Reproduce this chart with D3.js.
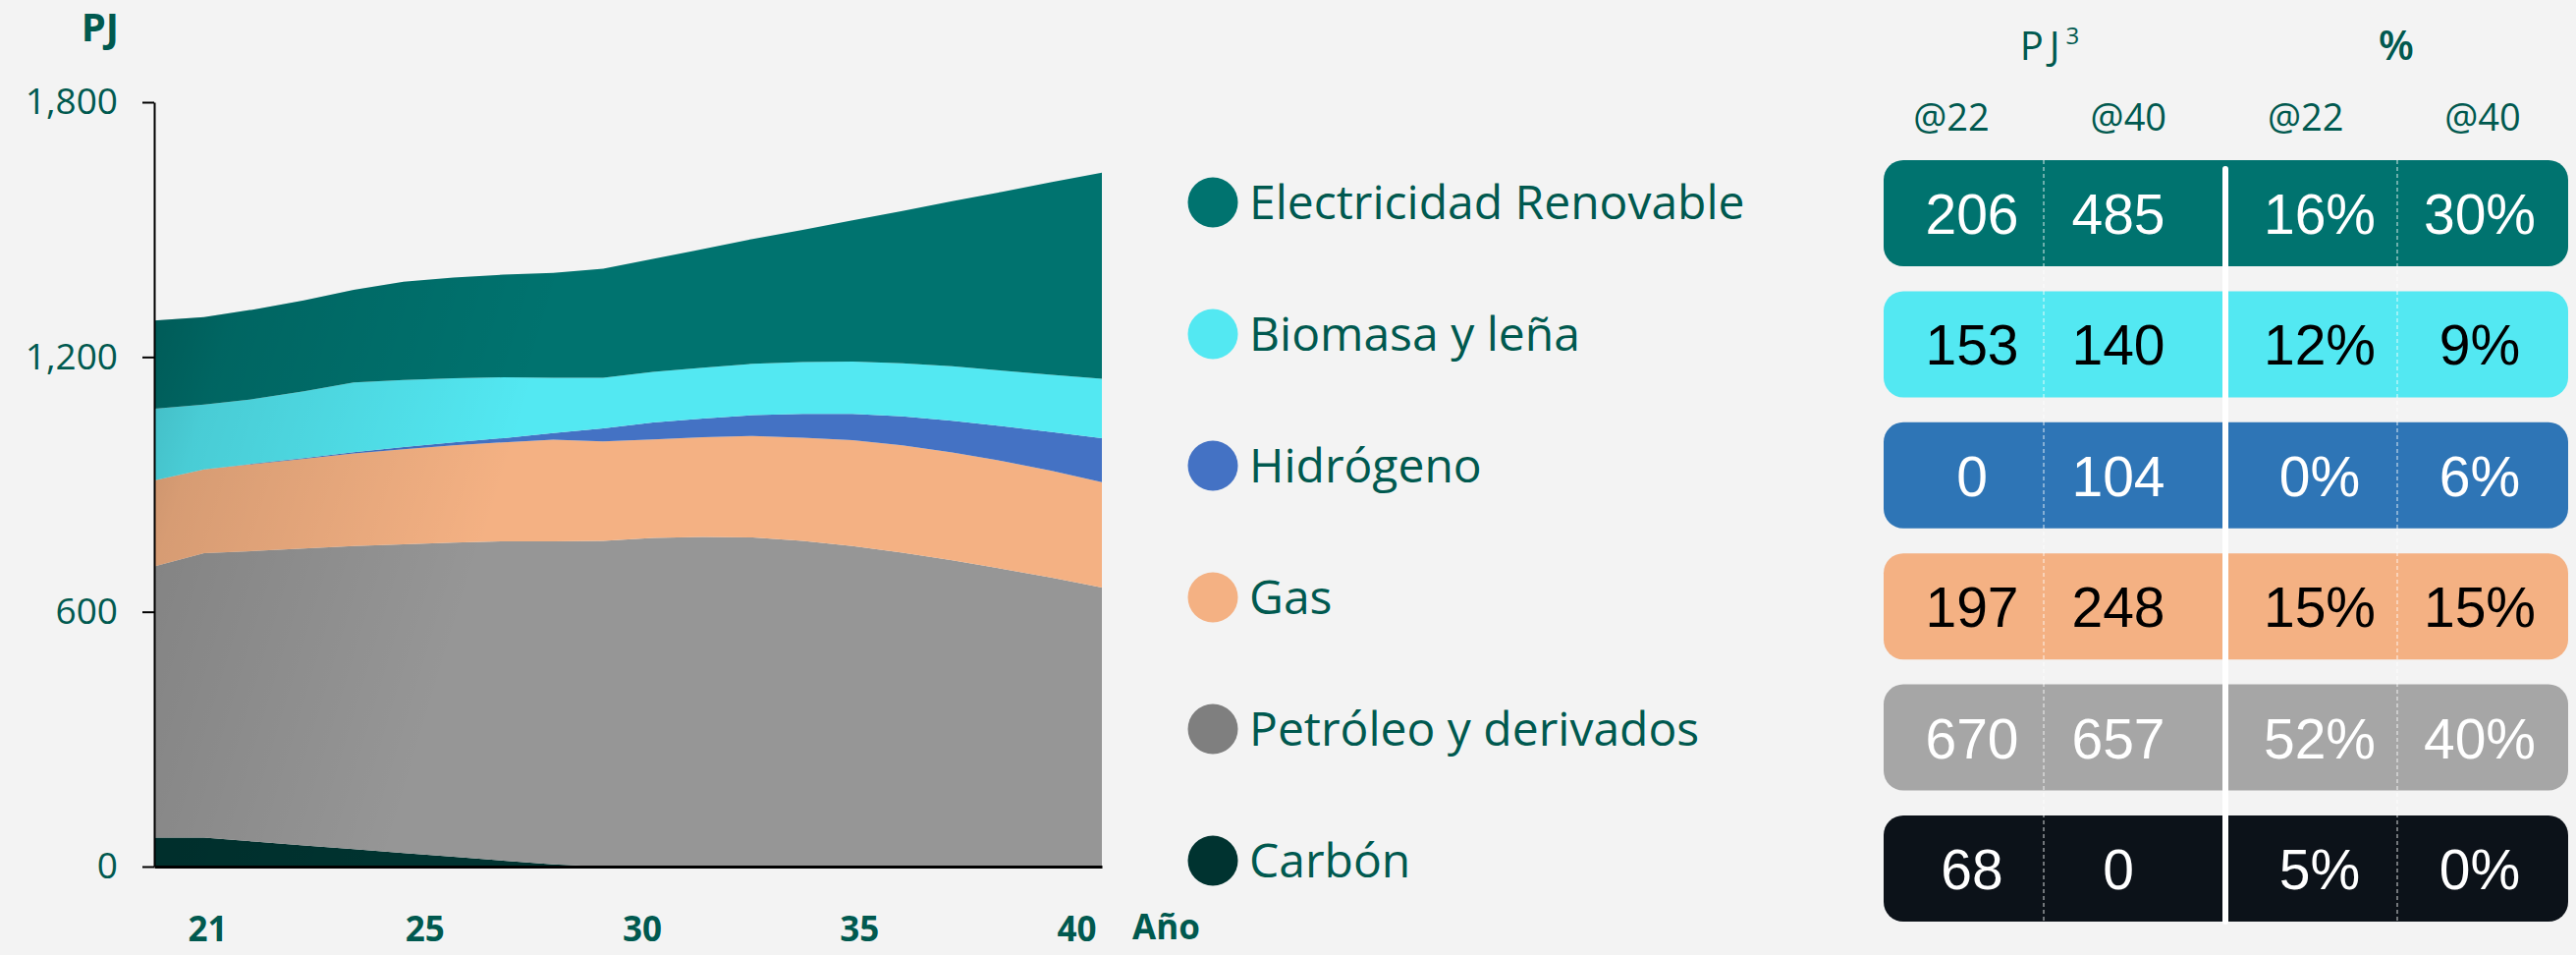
<!DOCTYPE html>
<html>
<head>
<meta charset="utf-8">
<script src="https://cdn.jsdelivr.net/npm/d3@7"></script>
<style>
  html, body { margin: 0; padding: 0; background: #f3f3f3; }
  svg { display: block; }
</style>
</head>
<body>
<div id="chart"></div>
<script>
// --- data (PJ) ---
const years = [2021, 2022, 2023, 2024, 2025, 2026, 2027, 2028, 2029, 2030,
               2031, 2032, 2033, 2034, 2035, 2036, 2037, 2038, 2039, 2040];
const electricidad = [208, 206, 211, 214, 218, 231, 237, 242, 247, 257, 266, 279, 294, 311, 333, 359, 389, 421, 454, 485];
const biomasa      = [169, 153, 152, 157, 164, 158, 151, 143, 130, 119, 119, 120, 121, 122, 123, 125, 128, 131, 135, 140];
const hidrogeno    = [0, 0, 1, 2, 3, 5, 7, 10, 16, 31, 40, 44, 49, 56, 62, 68, 75, 82, 91, 104];
const gas          = [202, 197, 205, 211, 218, 224, 229, 233, 239, 234, 232, 235, 239, 243, 249, 253, 254, 254, 252, 248];
const petroleo     = [639, 670, 684, 699, 714, 727, 740, 752, 761, 767, 774, 776, 775, 767, 755, 739, 721, 701, 680, 657];
const carbon       = [68, 68, 59, 50, 41, 32, 23, 14, 5, 0, 0, 0, 0, 0, 0, 0, 0, 0, 0, 0];

const seriesNames = ["Electricidad Renovable", "Biomasa y leña", "Hidrógeno", "Gas", "Petróleo y derivados", "Carbón"];
const xTickLabels = ["21", "25", "30", "35", "40"];
const yTicks = [0, 600, 1200, 1800];

// table values
const colKeys = ["pj22", "pj40", "pct22", "pct40"];
const colHeaders = ["@22", "@40", "@22", "@40"];
const pj22  = [206, 153, 0, 197, 670, 68];
const pj40  = [485, 140, 104, 248, 657, 0];
const pct22 = [16, 12, 0, 15, 52, 5];
const pct40 = [30, 9, 6, 15, 40, 0];

// --- styles ---
const ink = "#00594f";
const areaColors   = ["#00736f", "#53e8f2", "#4472c4", "#f4b183", "#969696", "#003330"];
const legendColors = ["#00736f", "#53e8f2", "#4472c4", "#f4b183", "#7f7f7f", "#003330"];
const rowColors    = ["#00736f", "#53e8f2", "#2e75b6", "#f4b183", "#a6a6a6", "#0c1219"];
const rowText      = ["#ffffff", "#000000", "#ffffff", "#000000", "#ffffff", "#ffffff"];

const dims = { width: 2623, height: 972 };

const svg = d3.select("#chart")
    .append("svg")
    .attr("width", dims.width)
    .attr("height", dims.height)
    .style("background", "#f3f3f3");

const defs = svg.append("defs");

// --- scales ---
const x = d3.scaleLinear().domain([years[0], years[years.length - 1]]).range([157, 1122]);
const y = d3.scaleLinear().domain([0, 1800]).range([882, 104]);

const table = years.map((yr, i) => ({
    year: yr,
    "Electricidad Renovable": electricidad[i],
    "Biomasa y leña": biomasa[i],
    "Hidrógeno": hidrogeno[i],
    "Gas": gas[i],
    "Petróleo y derivados": petroleo[i],
    "Carbón": carbon[i]
}));

const stackKeys = seriesNames.slice().reverse();
const stacked = d3.stack().keys(stackKeys)(table);
const color = d3.scaleOrdinal().domain(seriesNames).range(areaColors);

const area = d3.area()
    .x(d => x(d.data.year))
    .y0(d => y(d[0]))
    .y1(d => y(d[1]));

svg.append("g")
    .attr("class", "areas")
    .selectAll("path")
    .data(stacked)
    .join("path")
    .attr("d", area)
    .attr("fill", d => color(d.key));

// soft shading on the left of the stack
const totalArea = d3.area()
    .x(d => x(d.data.year))
    .y0(y(0))
    .y1(d => y(d[1]));

defs.append("clipPath").attr("id", "stack-clip")
    .append("path")
    .attr("d", totalArea(stacked[stacked.length - 1]));

const grad = defs.append("linearGradient")
    .attr("id", "shade")
    .attr("gradientUnits", "userSpaceOnUse")
    .attr("x1", 157).attr("y1", 0)
    .attr("x2", 620).attr("y2", 140);
grad.append("stop").attr("offset", 0).attr("stop-color", "#000").attr("stop-opacity", 0.04);
grad.append("stop").attr("offset", 0.02).attr("stop-color", "#000").attr("stop-opacity", 0.3);
grad.append("stop").attr("offset", 0.35).attr("stop-color", "#000").attr("stop-opacity", 0.12);
grad.append("stop").attr("offset", 1).attr("stop-color", "#000").attr("stop-opacity", 0);

svg.append("rect")
    .attr("clip-path", "url(#stack-clip)")
    .attr("x", 157).attr("y", 100)
    .attr("width", 965).attr("height", 790)
    .attr("fill", "url(#shade)");

// --- axes ---
const yAxis = svg.append("g")
    .attr("transform", `translate(${x.range()[0]},0)`)
    .call(d3.axisLeft(y).tickValues(yTicks).tickFormat(d3.format(",")).tickSize(12).tickPadding(25).tickSizeOuter(0));
yAxis.select(".domain").attr("stroke", "#000").attr("stroke-width", 2);
yAxis.selectAll(".tick line").attr("stroke", "#000").attr("stroke-width", 2);
yAxis.selectAll(".tick text")
    .attr("fill", ink)
    .style("font-family", "'Open Sans', sans-serif")
    .style("font-size", "37px");

const xAxis = svg.append("g")
    .attr("transform", `translate(0,${y(0)})`)
    .call(d3.axisBottom(x).tickValues([]).tickSizeOuter(0));
xAxis.select(".domain").attr("stroke", "#000").attr("stroke-width", 3);

const xLabel = d3.scalePoint().domain(xTickLabels).range([211, 1096]);
const xLabels = svg.append("g")
    .attr("transform", `translate(0,${y(0)})`)
    .call(d3.axisBottom(xLabel).tickSize(0).tickPadding(51));
xLabels.select(".domain").remove();
xLabels.selectAll(".tick text")
    .attr("fill", ink)
    .style("font-family", "'Open Sans', sans-serif")
    .style("font-weight", 700)
    .style("font-size", "35px");

svg.append("text")
    .attr("x", 1153).attr("y", 956)
    .attr("fill", ink)
    .style("font-family", "'Open Sans', sans-serif")
    .style("font-weight", 700)
    .style("font-size", "35px")
    .text("Año");

svg.append("text")
    .attr("x", 121).attr("y", 42)
    .attr("text-anchor", "end")
    .attr("fill", ink)
    .style("font-family", "'Open Sans', sans-serif")
    .style("font-weight", 700)
    .style("font-size", "40px")
    .text("PJ");

// --- legend ---
const legendY = d3.scalePoint().domain(seriesNames).range([206, 876]);
const legendColor = d3.scaleOrdinal().domain(seriesNames).range(legendColors);

const legend = svg.append("g")
    .attr("class", "legend")
    .selectAll("g")
    .data(seriesNames)
    .join("g")
    .attr("transform", d => `translate(1235,${legendY(d)})`);

legend.append("circle")
    .attr("r", 25.5)
    .attr("fill", d => legendColor(d));

legend.append("text")
    .attr("x", 37)
    .attr("y", 17)
    .attr("fill", ink)
    .style("font-family", "'Open Sans', sans-serif")
    .style("font-size", "48px")
    .text(d => d);

// --- table ---
const rowBand = d3.scaleBand().domain(seriesNames).range([163, 938]).paddingInner(0.19).paddingOuter(0);
const colX = d3.scaleOrdinal().domain(colKeys).range([2008, 2157, 2362, 2525]);
const headX = d3.scalePoint().domain(colKeys).range([1987, 2528]);
const rowFill = d3.scaleOrdinal().domain(seriesNames).range(rowColors);
const rowInk = d3.scaleOrdinal().domain(seriesNames).range(rowText);

svg.append("text")
    .attr("x", 2087).attr("y", 61)
    .attr("text-anchor", "middle")
    .attr("fill", ink)
    .style("font-family", "'Open Sans', sans-serif")
    .style("font-weight", 500)
    .style("font-size", "40px")
    .call(t => {
        t.append("tspan").attr("letter-spacing", "6px").text("PJ");
        t.append("tspan").attr("dy", -16).style("font-size", "24px").text("3");
    });

svg.append("text")
    .attr("x", 2440).attr("y", 61)
    .attr("text-anchor", "middle")
    .attr("fill", ink)
    .style("font-family", "'Open Sans', sans-serif")
    .style("font-weight", 600)
    .style("font-size", "42px")
    .text("%");

svg.append("g")
    .selectAll("text")
    .data(colKeys)
    .join("text")
    .attr("x", d => headX(d))
    .attr("y", 133)
    .attr("text-anchor", "middle")
    .attr("fill", ink)
    .style("font-family", "'Open Sans', sans-serif")
    .style("font-size", "38px")
    .text((d, i) => colHeaders[i]);

const rows = svg.append("g")
    .attr("class", "rows")
    .selectAll("g")
    .data(seriesNames.map((name, i) => ({
        name,
        cells: [
            { key: "pj22", text: `${pj22[i]}` },
            { key: "pj40", text: `${pj40[i]}` },
            { key: "pct22", text: `${pct22[i]}%` },
            { key: "pct40", text: `${pct40[i]}%` }
        ]
    })))
    .join("g")
    .attr("transform", d => `translate(0,${rowBand(d.name)})`);

rows.append("rect")
    .attr("x", 1918)
    .attr("width", 697)
    .attr("height", rowBand.bandwidth())
    .attr("rx", 20)
    .attr("fill", d => rowFill(d.name));

rows.selectAll("text")
    .data(d => d.cells.map(c => ({ ...c, name: d.name })))
    .join("text")
    .attr("x", c => colX(c.key))
    .attr("y", rowBand.bandwidth() / 2 + 21)
    .attr("text-anchor", "middle")
    .attr("fill", c => rowInk(c.name))
    .style("font-family", "'Liberation Sans', Arial, sans-serif")
    .style("font-size", "57px")
    .text(c => c.text);

// column dividers
svg.append("g")
    .selectAll("line")
    .data([2081, 2441])
    .join("line")
    .attr("x1", d => d).attr("x2", d => d)
    .attr("y1", 163).attr("y2", 938)
    .attr("stroke", "#ffffff")
    .attr("stroke-opacity", 0.85)
    .attr("stroke-width", 1)
    .attr("stroke-dasharray", "4,3");

svg.append("line")
    .attr("x1", 2266).attr("x2", 2266)
    .attr("y1", 172).attr("y2", 938)
    .attr("stroke", "#ffffff")
    .attr("stroke-width", 6)
    .attr("stroke-linecap", "round");
</script>
</body>
</html>
